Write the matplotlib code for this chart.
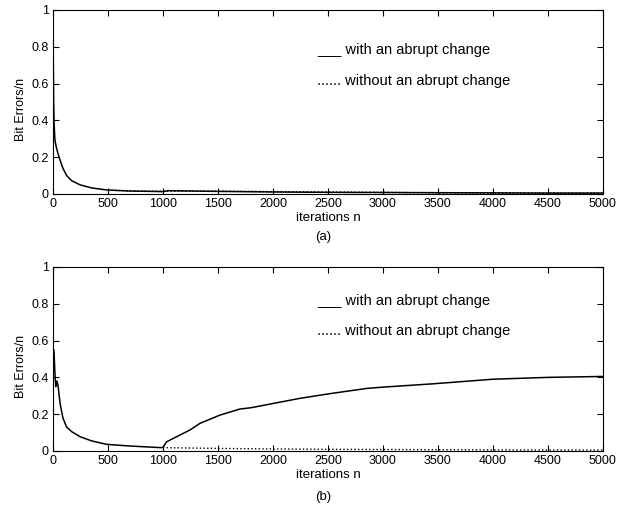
import numpy as np
from matplotlib import pyplot as plt

plt.rcParams['font.family'] = ['Liberation Sans', 'DejaVu Sans']
plt.rcParams['font.size'] = 9

# (a) no abrupt change in the channel
n_a_with = [0, 3, 6, 10, 18, 30, 45, 64, 90, 124, 170, 245, 350, 488, 700, 1000,
            1050, 1500, 2000, 2500, 3000, 3500, 4000, 4500, 5000]
ber_a_with = [1.0, 0.7, 0.5, 0.38, 0.29, 0.255, 0.22, 0.185, 0.14, 0.1, 0.072,
              0.05, 0.033, 0.022, 0.016, 0.013, 0.018, 0.014, 0.011, 0.009,
              0.008, 0.007, 0.006, 0.005, 0.005]
n_a_without = [500, 700, 1000, 1500, 2000, 2500, 3000, 3500, 4000, 4500, 5000]
ber_a_without = [0.02, 0.017, 0.015, 0.016, 0.013, 0.011, 0.009, 0.006, 0.005,
                 0.004, 0.004]

# (b) abrupt change at n = 1000
n_b_with = [0, 8, 18, 25, 35, 45, 64, 90, 124, 170, 245, 350, 488, 700, 988,
            1000, 1033, 1100, 1245, 1336, 1518, 1700, 1800, 2000, 2245, 2500,
            2852, 3000, 3455, 4000, 4500, 5000]
ber_b_with = [0.45, 0.55, 0.42, 0.35, 0.38, 0.36, 0.26, 0.18, 0.13, 0.105, 0.078,
              0.055, 0.036, 0.027, 0.018, 0.02, 0.05, 0.07, 0.114, 0.15, 0.195,
              0.228, 0.235, 0.258, 0.286, 0.31, 0.34, 0.347, 0.365, 0.39, 0.40,
              0.405]
n_b_without = [1000, 1500, 2000, 2500, 3000, 3500, 4000, 4500, 5000]
ber_b_without = [0.018, 0.014, 0.011, 0.009, 0.008, 0.007, 0.006, 0.005, 0.005]

xticks = np.arange(0, 5001, 500)
yticks = [0, 0.2, 0.4, 0.6, 0.8, 1]
ylabels = ['0', '0.2', '0.4', '0.6', '0.8', '1']


def panel(ax, n1, y1, n2, y2, leg_y):
    ax.plot(n1, y1, 'k-', lw=1.1)
    ax.plot(n2, y2, 'k:', lw=1.0)
    ax.set_xlim(0, 5000)
    ax.set_ylim(0, 1)
    ax.set_xticks(xticks)
    ax.set_yticks(yticks)
    ax.set_yticklabels(ylabels)
    ax.tick_params(direction='in', top=True, right=True, length=4, pad=3)
    ax.set_ylabel('Bit Errors/n')
    ax.yaxis.set_label_coords(-0.048, 0.46)
    ax.set_xlabel('iterations n', fontsize=9.5, labelpad=1)
    ax.text(2400, leg_y[0], '___ with an abrupt change', va='baseline',
            fontsize=10.5)
    ax.text(2400, leg_y[1], '...... without an abrupt change', va='baseline',
            fontsize=10.5)


fig = plt.figure(figsize=(6.22, 5.14), dpi=100)
ax1 = fig.add_axes([0.0852, 0.6226, 0.884, 0.358])
ax2 = fig.add_axes([0.0852, 0.1226, 0.884, 0.358])
panel(ax1, n_a_with, ber_a_with, n_a_without, ber_a_without, (0.761, 0.592))
panel(ax2, n_b_with, ber_b_with, n_b_without, ber_b_without, (0.793, 0.630))
fig.text(0.52, 0.539, '(a)', ha='center', va='center', fontsize=9.5)
fig.text(0.52, 0.033, '(b)', ha='center', va='center', fontsize=9.5)
fig.savefig('out.png', dpi=100)
